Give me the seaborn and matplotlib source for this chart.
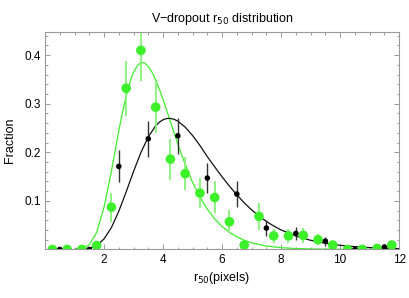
import matplotlib
matplotlib.use("Agg")
import matplotlib.pyplot as plt
from matplotlib.ticker import MultipleLocator
import pandas as pd
import seaborn as sns

# measured points, green = 0.5 px bins, black = 1 px bins
green_r50 = [0.25, 0.75, 1.25, 1.75, 2.25, 2.75, 3.25, 3.75, 4.25, 4.75, 5.25, 5.75,
             6.25, 6.75, 7.25, 7.75, 8.25, 8.75, 9.25, 9.75, 10.25, 10.75, 11.25, 11.75]
green_frac = [0.0, 0.0, 0.0, 0.008, 0.087, 0.332, 0.41, 0.293, 0.186, 0.156, 0.116, 0.107,
              0.057, 0.009, 0.068, 0.028, 0.028, 0.029, 0.02, 0.009, 0.0, 0.0, 0.002, 0.009]
green_err = [0.0, 0.0, 0.0, 0.008, 0.03, 0.057, 0.064, 0.053, 0.042, 0.034, 0.031, 0.033,
             0.024, 0.008, 0.027, 0.015, 0.015, 0.015, 0.011, 0.008, 0.0, 0.0, 0.003, 0.008]

black_r50 = [0.5, 1.5, 2.5, 3.5, 4.5, 5.5, 6.5, 7.5, 8.5, 9.5, 10.5, 11.5]
black_frac = [0.0, 0.0, 0.171, 0.228, 0.234, 0.147, 0.114, 0.044, 0.033, 0.017, 0.0, 0.005]
black_err = [0.0, 0.0, 0.033, 0.037, 0.037, 0.03, 0.026, 0.016, 0.014, 0.009, 0.0, 0.005]

# fitted curves
green_fit_x = [1.0, 1.25, 1.5, 1.75, 2.0, 2.25, 2.5, 2.625, 2.75, 2.875, 3.0, 3.125, 3.25,
               3.375, 3.5, 3.625, 3.75, 3.875, 4.0, 4.25, 4.5, 4.75, 5.0, 5.25, 5.5, 5.75,
               6.0, 6.25, 6.5, 6.75, 7.0, 7.5, 8.0, 8.5, 9.0, 10.0, 11.0, 12.0]
green_fit_y = [0.0, 0.0014, 0.0096, 0.035, 0.087, 0.161, 0.244, 0.282, 0.316, 0.344, 0.365,
               0.378, 0.385, 0.384, 0.377, 0.365, 0.349, 0.330, 0.309, 0.263, 0.217, 0.175,
               0.138, 0.108, 0.083, 0.063, 0.047, 0.035, 0.026, 0.019, 0.0135, 0.007, 0.0036,
               0.0019, 0.001, 0.0003, 0.0001, 0.0]

black_fit_x = [1.0, 1.25, 1.5, 1.75, 2.0, 2.25, 2.5, 2.75, 3.0, 3.25, 3.5, 3.75, 3.875, 4.0,
               4.125, 4.25, 4.375, 4.5, 4.75, 5.0, 5.25, 5.5, 5.75, 6.0, 6.25, 6.5, 6.75,
               7.0, 7.25, 7.5, 7.75, 8.0, 8.5, 9.0, 9.5, 10.0, 10.5, 11.0, 11.5, 12.0]
black_fit_y = [0.0, 0.0004, 0.0021, 0.008, 0.0216, 0.045, 0.0785, 0.1185, 0.1606, 0.1996,
               0.2318, 0.2545, 0.2621, 0.2671, 0.2696, 0.2698, 0.2679, 0.2642, 0.2519,
               0.2345, 0.214, 0.191, 0.17, 0.1495, 0.1302, 0.1125, 0.096, 0.0815, 0.0687,
               0.0577, 0.0482, 0.0401, 0.0276, 0.0188, 0.0127, 0.0085, 0.0057, 0.0038,
               0.0026, 0.0017]

GREEN = "#3cf02a"
GREEN_BAR = "#86f278"
BLACK = "#111111"

sns.set_theme(style="ticks")
plt.rcParams["font.family"] = ["Liberation Sans", "DejaVu Sans"]
plt.rcParams["text.color"] = "black"
plt.rcParams["axes.labelcolor"] = "black"

fig = plt.figure(figsize=(4.09, 2.98), dpi=100)
ax = fig.add_axes([0.110, 0.163, 0.866, 0.730])

green_fit = pd.DataFrame({"x": green_fit_x, "y": green_fit_y})
black_fit = pd.DataFrame({"x": black_fit_x, "y": black_fit_y})
sns.lineplot(data=green_fit, x="x", y="y", color=GREEN, linewidth=0.9, ax=ax)
sns.lineplot(data=black_fit, x="x", y="y", color=BLACK, linewidth=0.9, ax=ax)

ax.errorbar(green_r50, green_frac, yerr=green_err, fmt="none", ecolor=GREEN_BAR,
            elinewidth=1.3, capsize=0)
ax.errorbar(black_r50, black_frac, yerr=black_err, fmt="none", ecolor="#333333",
            elinewidth=1.0, capsize=0)

green_pts = pd.DataFrame({"r50": green_r50, "frac": green_frac})
black_pts = pd.DataFrame({"r50": black_r50, "frac": black_frac})
sns.scatterplot(data=green_pts, x="r50", y="frac", color=GREEN, s=48, edgecolor="none",
                ax=ax, zorder=4)
sns.scatterplot(data=black_pts, x="r50", y="frac", color="black", s=16, edgecolor="none",
                ax=ax, zorder=5)

ax.set_xlim(0, 12)
ax.set_ylim(0, 0.448)
ax.set_xticks([2, 4, 6, 8, 10, 12])
ax.set_yticks([0.1, 0.2, 0.3, 0.4])
ax.xaxis.set_minor_locator(MultipleLocator(0.5))
ax.yaxis.set_minor_locator(MultipleLocator(0.02))
ax.tick_params(which="both", direction="in", top=True, right=True, color="#888888",
               labelcolor="black", labelsize=8.5, pad=3)
ax.tick_params(which="major", length=3.5, width=0.6)
ax.tick_params(which="minor", length=1.8, width=0.6)
for sp in ax.spines.values():
    sp.set_color("#999999")
    sp.set_linewidth(0.8)

ax.set_title("V\u2212dropout r$_{50}$ distribution", fontsize=9, pad=7)
ax.set_xlabel("r$_{50}$(pixels)", fontsize=9, labelpad=3)
ax.set_ylabel("Fraction", fontsize=9, labelpad=6)

fig.savefig("out.png", dpi=100)
